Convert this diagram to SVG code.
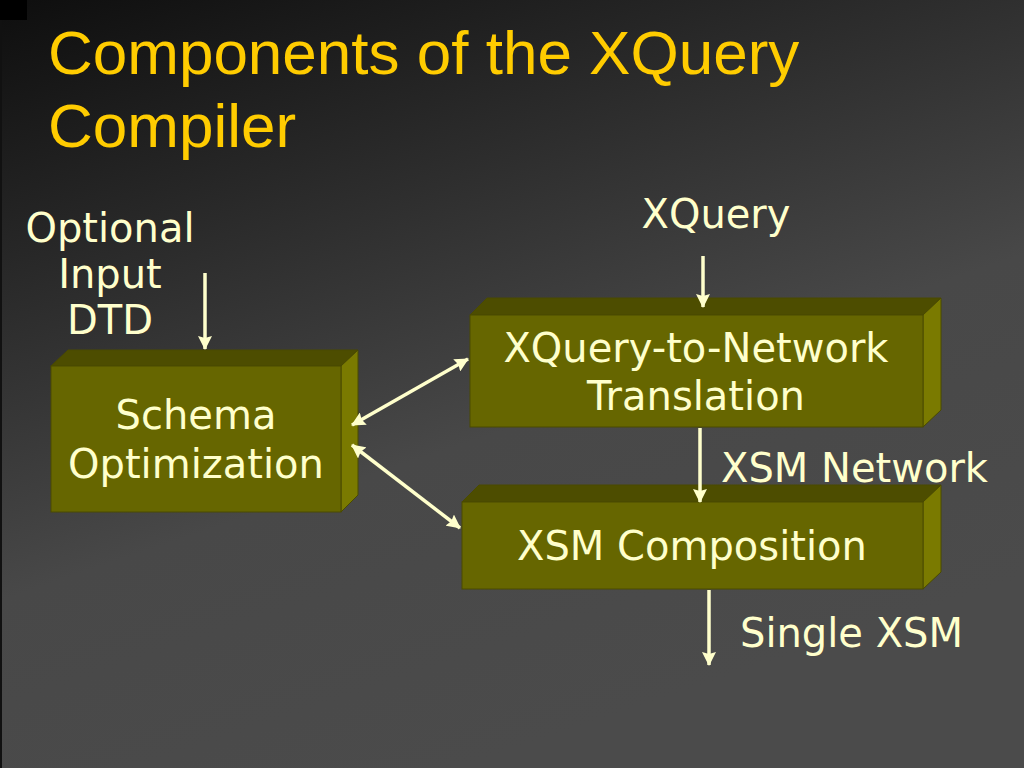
<svg xmlns="http://www.w3.org/2000/svg" width="1024" height="768" viewBox="0 0 1024 768">
<defs>
<linearGradient id="bg" x1="0" y1="0" x2="0.45" y2="1">
<stop offset="0" stop-color="#0e0e0e"/>
<stop offset="0.65" stop-color="#484848"/>
<stop offset="1" stop-color="#4b4b4b"/>
</linearGradient>
<marker id="ah" viewBox="0 0 14 14" refX="13" refY="7" markerWidth="14" markerHeight="14" markerUnits="userSpaceOnUse" orient="auto-start-reverse">
<path d="M0,0 L14,7 L0,14 L2,7 Z" fill="#ffffcc"/>
</marker>
<style>
.front{fill:#666600;stroke:#4a4a00;stroke-width:1}
.top{fill:#4d4d00;stroke:#4a4a00;stroke-width:1}
.side{fill:#7a7a00;stroke:#4a4a00;stroke-width:1}
.lbl{font-family:"DejaVu Sans","Verdana",sans-serif;font-size:40px;fill:#ffffcc;text-anchor:middle}
.lbs{font-family:"DejaVu Sans","Verdana",sans-serif;font-size:40px;fill:#ffffcc}
.title{font-family:"Liberation Sans",Arial,sans-serif;font-size:62px;fill:#ffcc00}
.conn line{stroke:#ffffcc;stroke-width:3.5;marker-end:url(#ah)}
</style>
</defs>
<rect x="0" y="0" width="1024" height="768" fill="url(#bg)"/>
<rect x="0" y="0" width="2" height="768" fill="#111"/>
<rect x="0" y="0" width="27" height="20" fill="#000"/>
<g id="title">
<text class="title" x="48" y="74">Components of the XQuery</text>
<text class="title" x="48" y="147">Compiler</text>
</g>
<g id="schema">
<polygon class="top" points="51,366 68,350 358,350 341,366"/>
<polygon class="side" points="341,366 358,350 358,495 341,512"/>
<rect class="front" x="51" y="366" width="290" height="146"/>
<text class="lbl" x="196" y="429">Schema</text>
<text class="lbl" x="196" y="478">Optimization</text>
</g>
<g id="translation">
<polygon class="top" points="470,315 487,298 941,298 923,315"/>
<polygon class="side" points="923,315 941,298 941,410 923,427"/>
<rect class="front" x="470" y="315" width="453" height="112"/>
<text class="lbl" x="696" y="362">XQuery-to-Network</text>
<text class="lbl" x="696" y="410">Translation</text>
</g>
<g id="composition">
<polygon class="top" points="462,502 479,485 941,485 923,502"/>
<polygon class="side" points="923,502 941,485 941,572 923,589"/>
<rect class="front" x="462" y="502" width="461" height="87"/>
<text class="lbl" x="692" y="560">XSM Composition</text>
</g>
<g id="dtd-label">
<text class="lbl" x="110" y="242">Optional</text>
<text class="lbl" x="110" y="288">Input</text>
<text class="lbl" x="110" y="334">DTD</text>
</g>
<g id="xquery-label">
<text class="lbl" x="716" y="228">XQuery</text>
</g>
<g id="xsm-network-label">
<text class="lbs" x="721" y="482">XSM Network</text>
</g>
<g id="single-xsm-label">
<text class="lbs" x="740" y="647">Single XSM</text>
</g>
<g id="connectors" class="conn">
<line x1="205" y1="273" x2="205" y2="349"/>
<line x1="703" y1="256" x2="703" y2="307"/>
<line x1="700" y1="428" x2="700" y2="502"/>
<line x1="709" y1="590" x2="709" y2="665"/>
<line x1="352" y1="425" x2="468" y2="359" marker-start="url(#ah)"/>
<line x1="352" y1="445" x2="460" y2="528" marker-start="url(#ah)"/>
</g>
</svg>
